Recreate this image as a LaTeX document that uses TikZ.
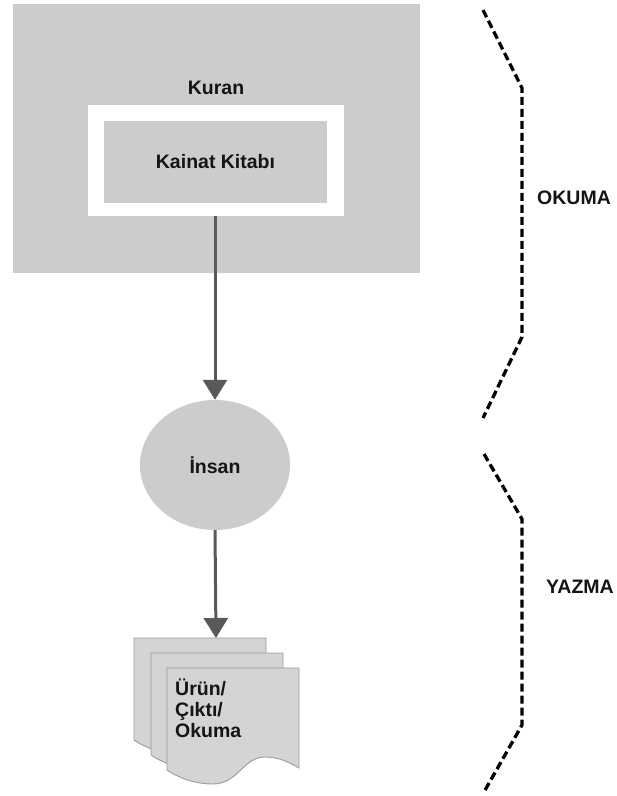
\documentclass[tikz,border=0pt]{standalone}
\usepackage{fontspec}
\setmainfont{Liberation Sans}
\usetikzlibrary{arrows.meta,shapes.geometric}
\definecolor{boxgray}{HTML}{CCCCCC}
\definecolor{docgray}{HTML}{D4D4D4}
\definecolor{docedge}{HTML}{9A9A9A}
\definecolor{arrowgray}{HTML}{595959}
\definecolor{txt}{HTML}{141414}
\tikzset{
  lbl/.style={font=\fontsize{19.5}{21}\selectfont\bfseries, text=txt, inner sep=0pt},
  flow/.style={draw=arrowgray, line width=3pt, -{Triangle[width=24pt,length=20pt]}},
  bracket/.style={draw=black, line width=3.3pt, dash pattern=on 8pt off 4pt},
  docshape/.style={fill=docgray, draw=docedge, line width=0.9pt},
}
\begin{document}
\begin{tikzpicture}[x=1pt,y=-1pt]
\useasboundingbox[fill=white] (0,0) rectangle (617,796);
% outer Kuran box
\node[fill=boxgray, inner sep=0pt, minimum width=407pt, minimum height=269pt] (kuranbox) at (216.5,138.5) {};
\node[lbl] (kuran) at (216,88) {Kuran};
% white frame and inner box
\node[fill=white, inner sep=0pt, minimum width=256pt, minimum height=111pt] (frame) at (216,160.5) {};
\node[fill=boxgray, inner sep=0pt, minimum width=223pt, minimum height=82pt, lbl] (kainat) at (215.5,162) {Kainat Kitab\i};
% insan ellipse
\node[ellipse, fill=boxgray, inner sep=0pt, minimum width=150pt, minimum height=130pt, lbl] (insan) at (215,465) {İnsan};
% documents
\foreach \ox/\oy in {134/638, 151/653, 167/668}{
  \path[docshape] (\ox,\oy) -- ++(132,0) -- ++(0,100)
    .. controls +(-9,-5) and +(15,0) .. ++(-34,-11)
    .. controls +(-22,0) and +(25,0) .. ++(-52,27)
    .. controls +(-15,0) and +(15,10) .. ++(-46,-14) -- cycle;
}
\coordinate (doctop) at (216,638);
\node[lbl, align=left, anchor=north west] (doc) at (175,679) {Ürün/\\Çıktı/\\Okuma};
% arrows
\draw[flow] (frame.south -| insan.north) -- (insan.north);
\draw[flow] (insan.south) -- (doctop);
% brackets
\coordinate (a1) at (483,10);
\coordinate (a2) at (522,88);
\coordinate (a3) at (522,337);
\coordinate (a4) at (483,418);
\draw[bracket] (a1) -- (a2) -- (a3) -- (a4);
\coordinate (b1) at (484,454);
\coordinate (b2) at (522,519);
\coordinate (b3) at (522,725);
\coordinate (b4) at (484,792);
\draw[bracket] (b1) -- (b2) -- (b3) -- (b4);
\node[lbl, anchor=west] (okuma) at (537,198) {OKUMA};
\node[lbl, anchor=west] (yazma) at (546,587) {YAZMA};
\end{tikzpicture}
\end{document}
